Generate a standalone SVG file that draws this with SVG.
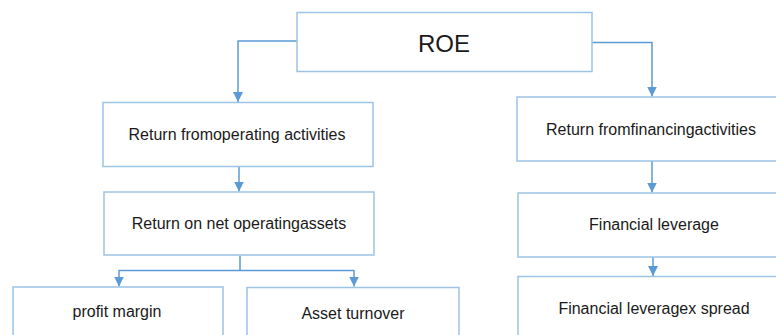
<svg xmlns="http://www.w3.org/2000/svg" width="776" height="335" viewBox="0 0 776 335">
<style>
.box{fill:#ffffff;stroke:#9dc3e6;stroke-width:1.5}
.t{font-family:"Liberation Sans",Arial,sans-serif;font-size:16px;fill:#1a1a1a;text-anchor:middle}
.c{fill:none;stroke:#5b9bd5;stroke-width:1.5}
</style>
<defs>
<marker id="ah" viewBox="0 0 10 10" refX="10" refY="5" markerWidth="10" markerHeight="11" markerUnits="userSpaceOnUse" orient="auto">
<path d="M0,0 L10,5 L0,10 Z" fill="#5b9bd5"/>
</marker>
</defs>
<rect width="776" height="335" fill="#ffffff"/>
<g id="connectors">
<path class="c" d="M297,41 H238 V102" marker-end="url(#ah)"/>
<path class="c" d="M592,42.5 H652 V96.5" marker-end="url(#ah)"/>
<path class="c" d="M239,166.5 V191.5" marker-end="url(#ah)"/>
<path class="c" d="M240,255.5 V270.5 M119,270.5 H354"/>
<path class="c" d="M119,270 V286.5" marker-end="url(#ah)"/>
<path class="c" d="M354,270 V286.5" marker-end="url(#ah)"/>
<path class="c" d="M652,161 V192.5" marker-end="url(#ah)"/>
<path class="c" d="M653,257 V276" marker-end="url(#ah)"/>
</g>
<g id="roe">
<rect class="box" x="297" y="12.5" width="295" height="59"/>
<text class="t" x="444" y="51.5" style="font-size:24px">ROE</text>
</g>
<g id="op-activities">
<rect class="box" x="103" y="102.5" width="270" height="64"/>
<text class="t" x="237" y="140">Return fromoperating activities</text>
</g>
<g id="rnoa">
<rect class="box" x="104" y="192" width="270" height="63"/>
<text class="t" x="239" y="229">Return on net operatingassets</text>
</g>
<g id="profit-margin">
<rect class="box" x="13" y="287" width="210" height="60"/>
<text class="t" x="117" y="317">profit margin</text>
</g>
<g id="asset-turnover">
<rect class="box" x="247" y="287.5" width="212" height="60"/>
<text class="t" x="353" y="318.5">Asset turnover</text>
</g>
<g id="fin-activities">
<rect class="box" x="517" y="97" width="272" height="64"/>
<text class="t" x="651" y="135">Return fromfinancingactivities</text>
</g>
<g id="fin-leverage">
<rect class="box" x="518" y="193" width="272" height="64"/>
<text class="t" x="654" y="230">Financial leverage</text>
</g>
<g id="fl-spread">
<rect class="box" x="518" y="276.5" width="272" height="70"/>
<text class="t" x="654" y="314">Financial leveragex spread</text>
</g>
</svg>
